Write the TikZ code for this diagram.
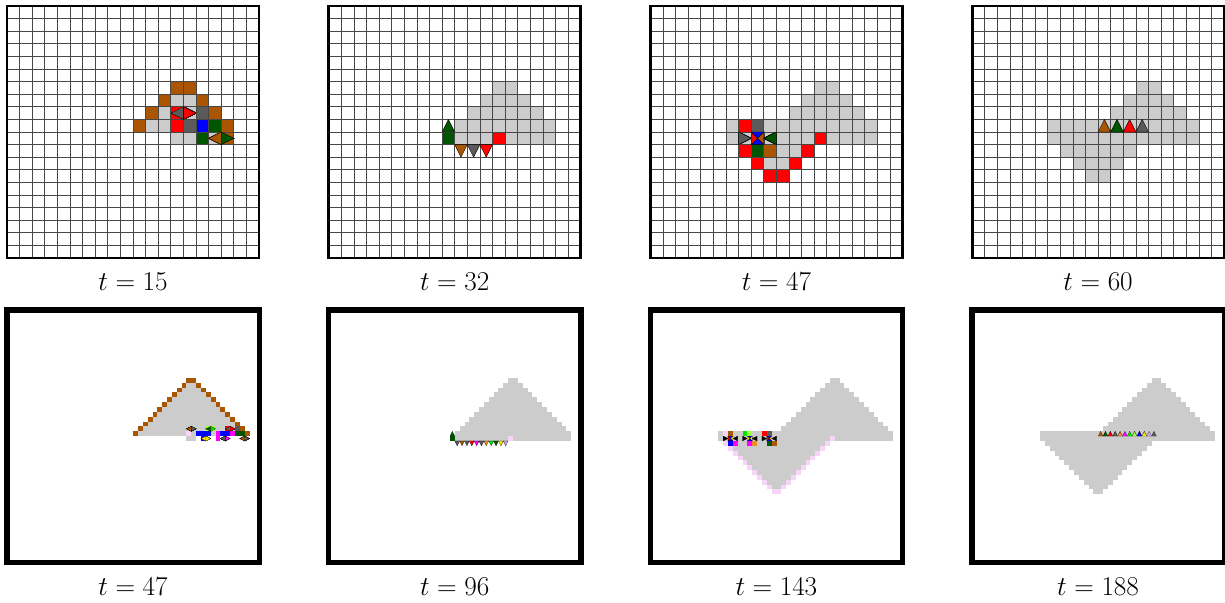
\documentclass[tikz,border=0pt]{standalone}

\definecolor{cellbrown}{RGB}{170,85,0}
\definecolor{cellgray}{RGB}{204,204,204}
\definecolor{celldark}{RGB}{90,90,90}
\definecolor{cellred}{RGB}{255,0,0}
\definecolor{cellblue}{RGB}{0,0,255}
\definecolor{cellgreen}{RGB}{0,85,0}
\definecolor{cellpink}{RGB}{248,212,248}
\definecolor{celllime}{RGB}{160,255,60}
\definecolor{cellbright}{RGB}{0,230,0}
\definecolor{cellmag}{RGB}{255,0,255}
\definecolor{cellyellow}{RGB}{255,230,0}
\definecolor{cellorange}{RGB}{240,140,40}
\definecolor{celllav}{RGB}{200,170,230}

% one cell, and one agent in a cell
\newcommand{\cellsq}[3]{\fill[#3] (#1,#2) rectangle ++(1,1);}
\newcommand{\triright}[3]{\filldraw[agent,fill=#3] (#1,#2) -- (#1+1,#2+0.5) -- (#1,#2+1) -- cycle;}
\newcommand{\trileft}[3]{\filldraw[agent,fill=#3] (#1+1,#2) -- (#1,#2+0.5) -- (#1+1,#2+1) -- cycle;}
\newcommand{\triup}[3]{\filldraw[agent,fill=#3] (#1,#2+1) -- (#1+0.5,#2) -- (#1+1,#2+1) -- cycle;}
\newcommand{\tridown}[3]{\filldraw[agent,fill=#3] (#1,#2) -- (#1+0.5,#2+1) -- (#1+1,#2) -- cycle;}
\newcommand{\cellquad}[6]{%
  \filldraw[agent,fill=#3] (#1,#2) -- (#1+1,#2) -- (#1+0.5,#2+0.5) -- cycle;
  \filldraw[agent,fill=#4] (#1+1,#2) -- (#1+1,#2+1) -- (#1+0.5,#2+0.5) -- cycle;
  \filldraw[agent,fill=#5] (#1,#2+1) -- (#1+1,#2+1) -- (#1+0.5,#2+0.5) -- cycle;
  \filldraw[agent,fill=#6] (#1,#2) -- (#1,#2+1) -- (#1+0.5,#2+0.5) -- cycle;}
\newcommand{\cellgrid}{%
  \foreach \i in {1,...,19} {\draw[gridline] (\i,0) -- (\i,20); \draw[gridline] (0,\i) -- (20,\i);}}

\begin{document}
\begin{tikzpicture}[x=0.03cm,y=-0.03cm,
  gridline/.style={draw=black!72,line width=0.55pt},
  thinframe/.style={draw=black,line width=2.4pt},
  thickframe/.style={draw=black,line width=4.6pt},
  agent/.style={draw=black,line width=0.35pt,line join=round},
  caption/.style={font=\huge,scale=1.12},
]
\useasboundingbox (0,0) rectangle (1225,602);

% ---- top row: 20x20 grids
\begin{scope}[shift={(7,6)},x=0.378cm,y=-0.378cm]
  \foreach \c/\r in {13/7,14/7,12/8,14/8,11/9,12/9,13/10,14/10,16/10} \cellsq{\c}{\r}{cellgray}
  \foreach \c/\r in {13/6,14/6,12/7,15/7,11/8,16/8,10/9,17/9,17/10} \cellsq{\c}{\r}{cellbrown}
  \cellsq{13}{8}{cellred} \cellsq{13}{9}{cellred}
  \cellsq{15}{8}{celldark} \cellsq{14}{9}{celldark}
  \cellsq{15}{9}{cellblue}
  \cellsq{16}{9}{cellgreen} \cellsq{15}{10}{cellgreen}
  \cellgrid
  \trileft{13}{8}{celldark} \triright{14}{8}{cellred}
  \trileft{16}{10}{cellbrown} \triright{17}{10}{cellgreen}
  \draw[thinframe] (0,0) rectangle (20,20);
\end{scope}

\begin{scope}[shift={(328.7,6)},x=0.378cm,y=-0.378cm]
  \foreach \k in {0,...,3} \fill[cellgray] (13-\k,6+\k) rectangle (15+\k,7+\k);
  \fill[cellgray] (10,10) rectangle (18,11);
  \cellsq{13}{10}{cellred}
  \cellsq{9}{10}{cellgreen}
  \cellgrid
  \triup{9}{9}{cellgreen}
  \tridown{10}{11}{cellbrown} \tridown{11}{11}{celldark} \tridown{12}{11}{cellred}
  \draw[thinframe] (0,0) rectangle (20,20);
\end{scope}

\begin{scope}[shift={(650.4,6)},x=0.378cm,y=-0.378cm]
  \foreach \k in {0,...,2} \fill[cellgray] (13-\k,6+\k) rectangle (15+\k,7+\k);
  \fill[cellgray] (6,9) rectangle (18,11);
  \fill[cellgray] (10,11) rectangle (12,12);
  \fill[cellgray] (9,12) rectangle (11,13);
  \foreach \c/\r in {7/9,13/10,7/11,12/11,8/12,11/12,9/13,10/13} \cellsq{\c}{\r}{cellred}
  \cellsq{8}{9}{celldark}
  \cellsq{8}{11}{cellgreen} \cellsq{9}{11}{cellbrown}
  \cellgrid
  \triright{7}{10}{celldark}
  \cellquad{8}{10}{cellblue}{cellbrown}{cellblue}{cellred}
  \trileft{9}{10}{cellgreen}
  \draw[thinframe] (0,0) rectangle (20,20);
\end{scope}

\begin{scope}[shift={(972.1,6)},x=0.378cm,y=-0.378cm]
  \foreach \k in {0,...,2} \fill[cellgray] (13-\k,6+\k) rectangle (15+\k,7+\k);
  \fill[cellgray] (6,9) rectangle (18,11);
  \fill[cellgray] (7,11) rectangle (13,12);
  \fill[cellgray] (8,12) rectangle (12,13);
  \fill[cellgray] (9,13) rectangle (11,14);
  \cellgrid
  \triup{10}{9}{cellbrown} \triup{11}{9}{cellgreen}
  \triup{12}{9}{cellred} \triup{13}{9}{celldark}
  \draw[thinframe] (0,0) rectangle (20,20);
\end{scope}

% ---- bottom row: larger runs, no grid
\begin{scope}[shift={(7,310)},x=0.1455cm,y=-0.1455cm,
    agent/.style={draw=black,line width=0.15pt}]
  \cellsq{37}{14}{cellbrown} \cellsq{38}{14}{cellbrown}
  \foreach \k in {1,...,11} {
    \fill[cellgray] (38-\k,14+\k) rectangle (38+\k,15+\k);
    \cellsq{37-\k}{14+\k}{cellbrown} \cellsq{38+\k}{14+\k}{cellbrown}
  }
  \fill[cellgray] (37,26) rectangle (39,27);
  \cellsq{37}{25}{cellpink}
  \foreach \c in {39,40,41,44,45} \cellsq{\c}{25}{cellblue}
  \cellsq{43}{25}{cellmag} \cellsq{46}{25}{cellmag}
  \cellsq{47}{25}{cellgreen} \cellsq{48}{25}{cellgreen}
  \cellsq{41}{24}{celllime} \cellsq{42}{24}{celllime}
  \cellsq{45}{24}{cellred} \cellsq{47}{24}{celldark}
  \cellsq{40}{26}{cellblue} \cellsq{43}{26}{cellmag}
  \trileft{37}{24}{cellbrown} \triright{38}{24}{celldark}
  \trileft{41}{24}{cellgreen} \triright{42}{24}{cellbright}
  \trileft{45}{24}{celldark} \triright{46}{24}{cellred}
  \trileft{40}{26}{cellyellow} \triright{41}{26}{cellyellow}
  \trileft{44}{26}{celldark} \triright{45}{26}{cellmag}
  \trileft{48}{26}{cellbrown} \triright{49}{26}{celldark}
  \draw[thickframe] (0,0) rectangle (52,52);
\end{scope}

\begin{scope}[shift={(328.7,310)},x=0.1455cm,y=-0.1455cm,
    agent/.style={draw=black,line width=0.15pt}]
  \foreach \k in {0,...,11} \fill[cellgray] (37-\k,14+\k) rectangle (39+\k,15+\k);
  \fill[cellgray] (26,26) rectangle (50,27);
  \cellsq{37}{26}{cellpink}
  \cellsq{25}{26}{cellgreen} \triup{25}{25}{cellgreen}
  \foreach \c/\cl in {26/celldark,27/cellbrown,28/celldark,29/cellred,30/cellmag,31/celldark,
    32/cellorange,33/cellbright,34/cellgreen,35/cellyellow,36/celllav}
    \tridown{\c}{27}{\cl}
  \draw[thickframe] (0,0) rectangle (52,52);
\end{scope}

\begin{scope}[shift={(650.4,310)},x=0.1455cm,y=-0.1455cm,
    agent/.style={draw=black,line width=0.15pt}]
  \foreach \k in {0,...,10} \fill[cellgray] (37-\k,14+\k) rectangle (39+\k,15+\k);
  \fill[cellgray] (14,25) rectangle (50,27);
  \foreach \j in {0,...,10} {
    \fill[cellgray] (25-\j,37-\j) rectangle (27+\j,38-\j);
    \cellsq{25-\j}{37-\j}{cellpink} \cellsq{26+\j}{37-\j}{cellpink}
  }
  \cellsq{37}{26}{cellpink} \cellsq{15}{25}{cellpink}
  % three groups of agents
  \cellsq{16}{25}{cellbrown} \cellsq{16}{27}{cellblue} \cellsq{17}{27}{cellmag}
  \cellsq{19}{25}{cellbright} \cellsq{20}{25}{celllime} \cellsq{20}{27}{cellmag} \cellsq{21}{27}{cellorange}
  \cellsq{23}{25}{cellred} \cellsq{24}{25}{celldark} \cellsq{24}{27}{cellgreen} \cellsq{25}{27}{cellbrown}
  \foreach \a/\cl in {15/cellred,19/cellyellow,23/cellred} {
    \triright{\a}{26}{black}
    \cellquad{\a+1}{26}{cellblue}{cellyellow}{cellblue}{\cl}
    \trileft{\a+2}{26}{black}
  }
  \draw[thickframe] (0,0) rectangle (52,52);
\end{scope}

\begin{scope}[shift={(972.1,310)},x=0.1455cm,y=-0.1455cm,
    agent/.style={draw=black,line width=0.15pt}]
  \foreach \k in {0,...,10} \fill[cellgray] (37-\k,14+\k) rectangle (39+\k,15+\k);
  \fill[cellgray] (14,25) rectangle (50,27);
  \foreach \j in {0,...,10} \fill[cellgray] (25-\j,37-\j) rectangle (27+\j,38-\j);
  \foreach \c/\cl in {26/cellbrown,27/cellgreen,28/cellred,29/celldark,30/cellorange,31/cellmag,
    32/cellbright,33/celllime,34/cellblue,35/cellyellow,36/celllav,37/celldark}
    \triup{\c}{25}{\cl}
  \draw[thickframe] (0,0) rectangle (52,52);
\end{scope}

% ---- captions
\node[caption] (top1) at (133,282) {$t = 15$};
\node[caption] (top2) at (454.7,282) {$t = 32$};
\node[caption] (top3) at (776.4,282) {$t = 47$};
\node[caption] (top4) at (1098.1,282) {$t = 60$};
\node[caption] (bot1) at (133,587) {$t = 47$};
\node[caption] (bot2) at (454.7,587) {$t = 96$};
\node[caption] (bot3) at (776.4,587) {$t = 143$};
\node[caption] (bot4) at (1098.1,587) {$t = 188$};

\end{tikzpicture}
\end{document}
